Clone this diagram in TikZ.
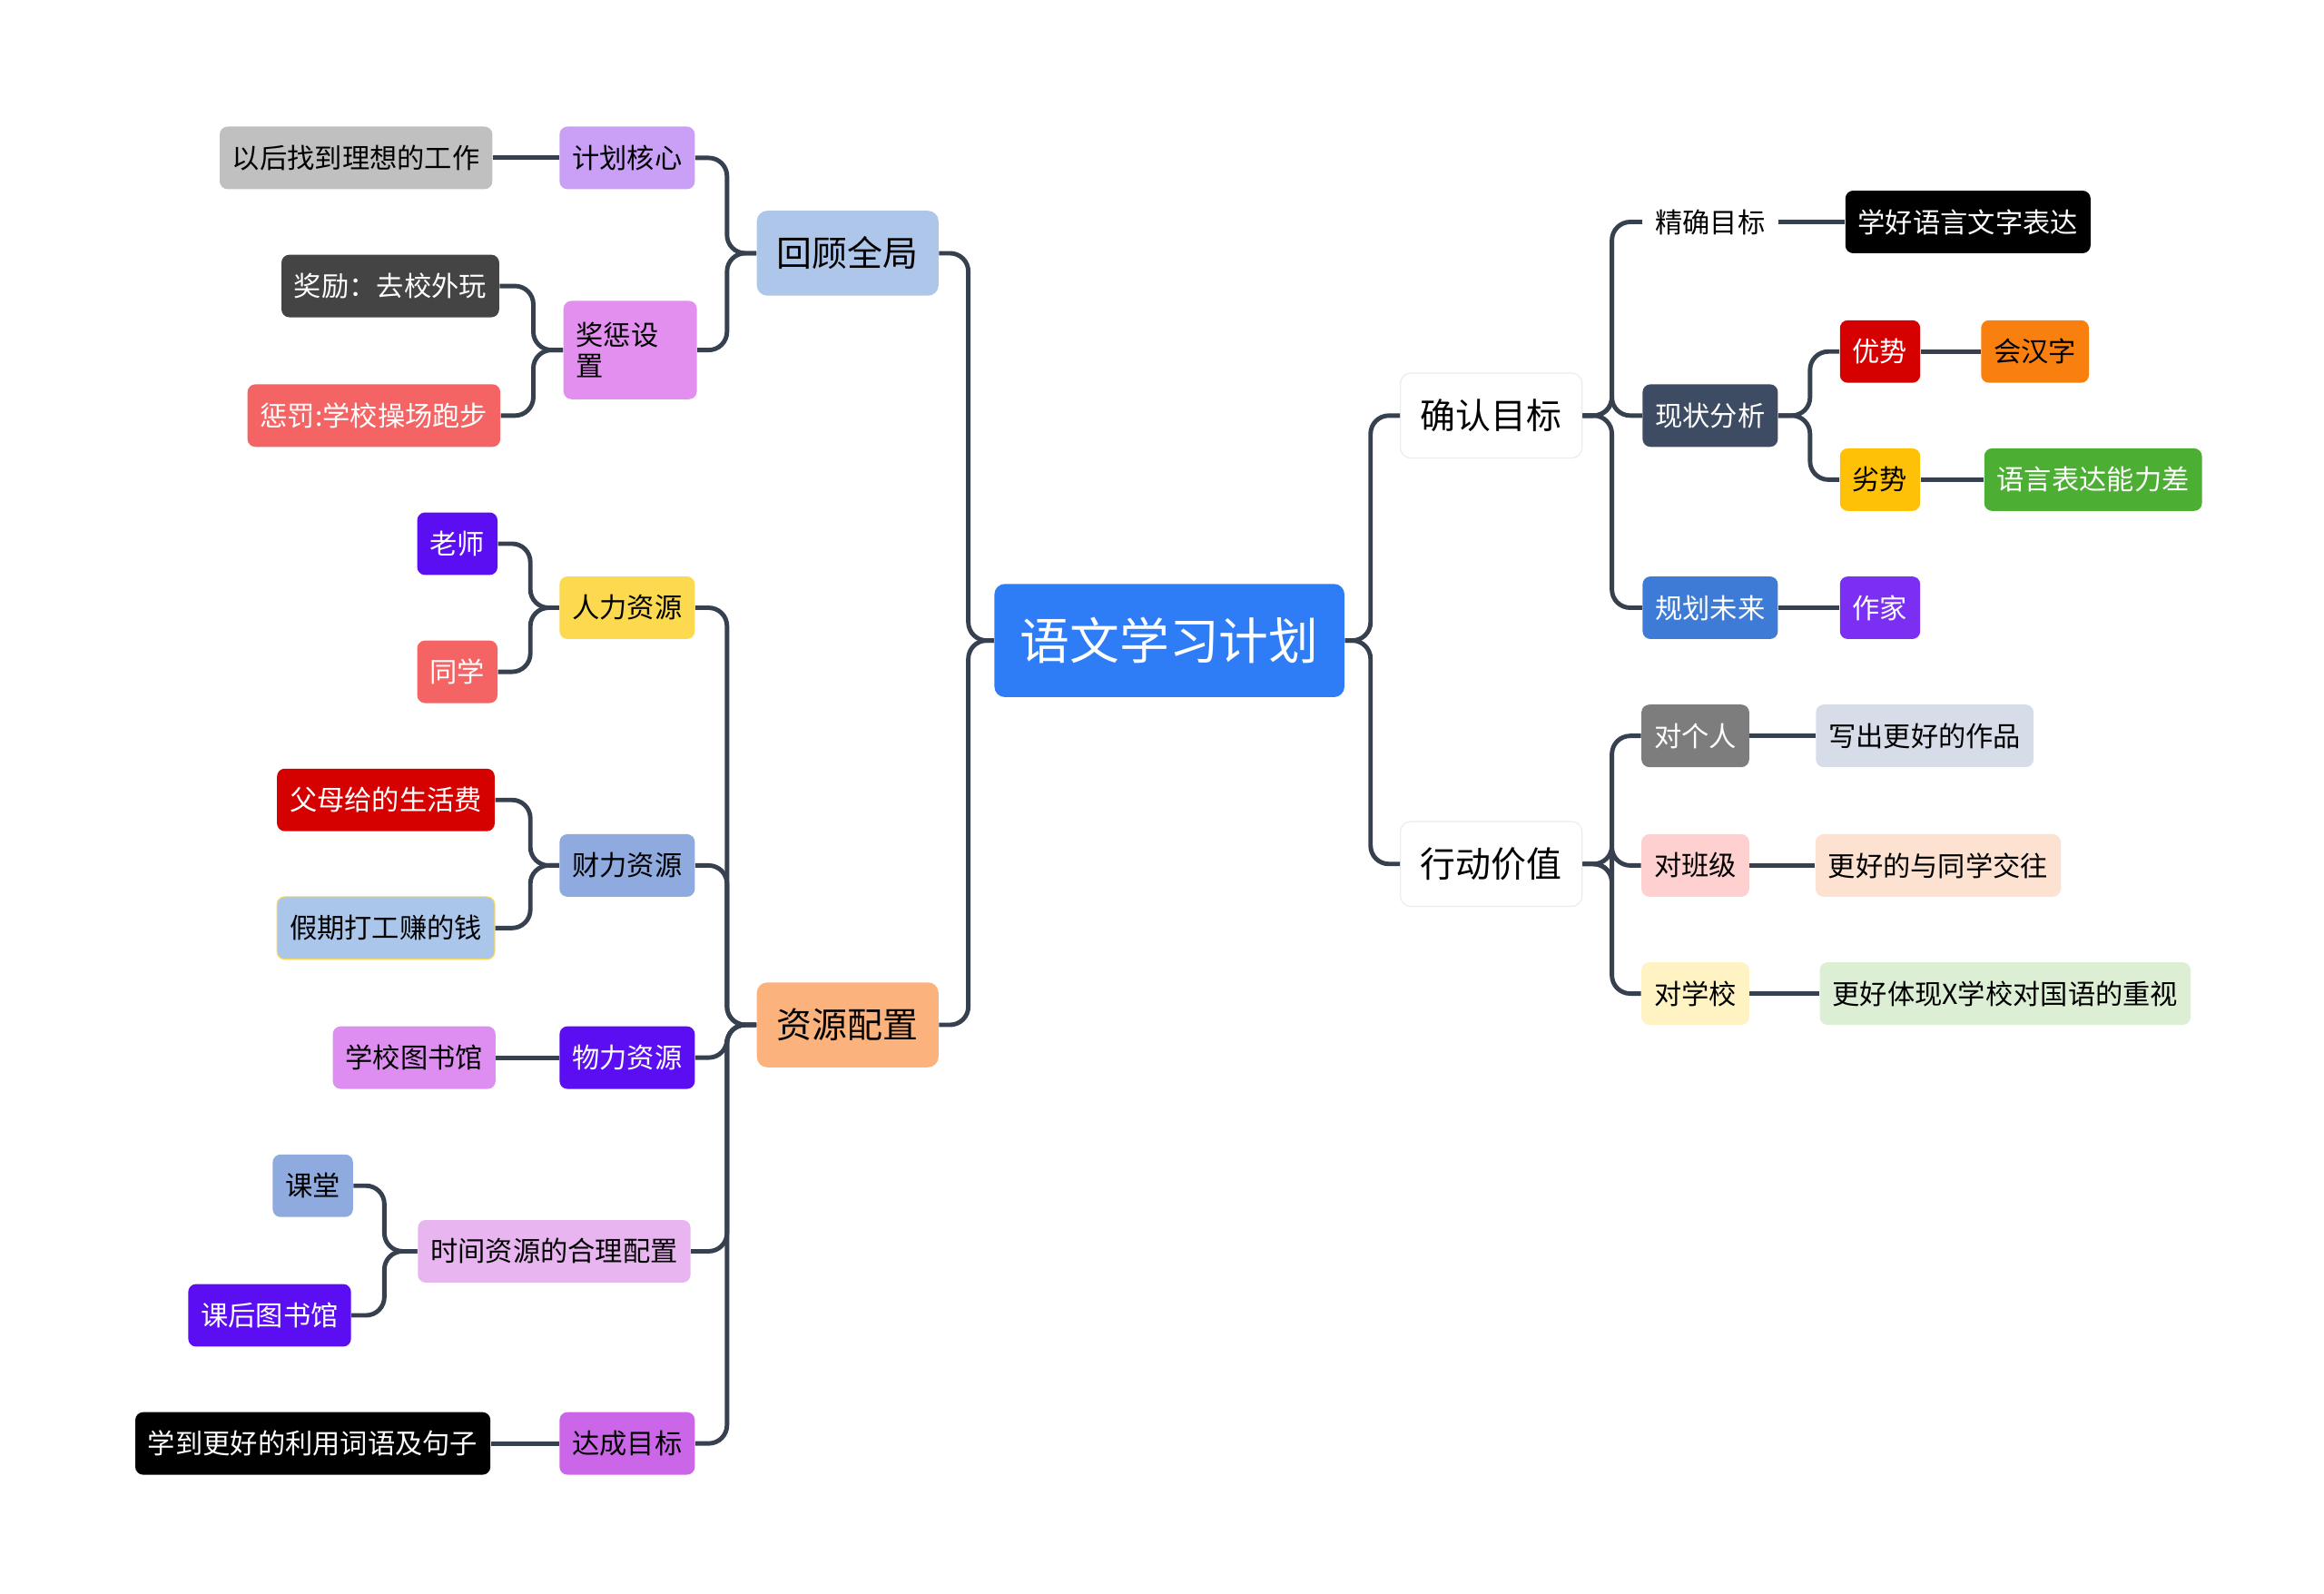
\documentclass[tikz,border=0pt]{standalone}
\usepackage{fontspec}
\setmainfont{Noto Sans CJK SC}
\usepackage{tikz}
\usetikzlibrary{arrows.meta}

\definecolor{linkc}{HTML}{37404F}

\begin{document}
\begin{tikzpicture}[x=0.02cm,y=-0.02cm]
	\tikzstyle{box}=[rounded corners=3pt,inner xsep=0.17cm,minimum height=0.84cm,font=\fontsize{10.5pt}{12pt}\selectfont,text=black]
	\tikzstyle{wbox}=[box,text=white]
	\tikzstyle{main}=[rounded corners=4pt,minimum width=2.44cm,minimum height=1.14cm,font=\fontsize{13.5pt}{15pt}\selectfont]
	\tikzstyle{link}=[draw=linkc,line width=1.7pt,rounded corners=7pt]
	\useasboundingbox (0,0) rectangle (1560,1070);

	%Root
	\node[rounded corners=4pt,fill={rgb,255:red,47;green,125;blue,246},text=white,minimum width=4.7cm,minimum height=1.52cm,font=\fontsize{19pt}{21pt}\selectfont] (root) at (785,430) {语文学习计划};

	%Main topics
	\node[main,fill={rgb,255:red,174;green,198;blue,234}] (hg) at (569,170) {回顾全局};
	\node[main,fill={rgb,255:red,251;green,178;blue,125}] (zy) at (569,688) {资源配置};
	\node[main,fill=white,draw={rgb,255:red,235;green,235;blue,235}] (qr) at (1001,279) {确认目标};
	\node[main,fill=white,draw={rgb,255:red,235;green,235;blue,235}] (xd) at (1001,580) {行动价值};

	%Left - review
	\node[box,fill={rgb,255:red,201;green,160;blue,245}] (jh) at (421,106) {计划核心};
	\node[box,fill={rgb,255:red,226;green,143;blue,240},align=left,minimum height=1.32cm,text width=1.45cm] (jc) at (423,235) {奖惩设\\置};
	\node[box,fill={rgb,255:red,192;green,192;blue,192}] (gz) at (239,106) {以后找到理想的工作};
	\node[wbox,fill={rgb,255:red,68;green,68;blue,68}] (jl) at (262,192) {奖励：去校外玩};
	\node[wbox,fill={rgb,255:red,244;green,100;blue,100}] (cf) at (251,279) {惩罚:学校操场跑步};

	%Left - resources
	\node[box,fill={rgb,255:red,253;green,217;blue,79}] (rl) at (421,408) {人力资源};
	\node[box,fill={rgb,255:red,142;green,170;blue,223}] (cl) at (421,581) {财力资源};
	\node[wbox,fill={rgb,255:red,91;green,14;blue,242}] (wl) at (421,710) {物力资源};
	\node[box,fill={rgb,255:red,232;green,181;blue,240}] (sj) at (372,840) {时间资源的合理配置};
	\node[box,fill={rgb,255:red,204;green,102;blue,232}] (dc) at (421,969) {达成目标};
	\node[wbox,fill={rgb,255:red,91;green,14;blue,242}] (ls) at (307,365) {老师};
	\node[wbox,fill={rgb,255:red,244;green,100;blue,100}] (tx) at (307,451) {同学};
	\node[wbox,fill={rgb,255:red,213;green,0;blue,0}] (fm) at (259,537) {父母给的生活费};
	\node[box,fill={rgb,255:red,170;green,198;blue,234},draw={rgb,255:red,250;green,215;blue,90}] (jq) at (259,623) {假期打工赚的钱};
	\node[box,fill={rgb,255:red,222;green,142;blue,240}] (ts) at (278,710) {学校图书馆};
	\node[box,fill={rgb,255:red,142;green,170;blue,223}] (kt) at (210,796) {课堂};
	\node[wbox,fill={rgb,255:red,91;green,14;blue,242}] (kh) at (181,883) {课后图书馆};
	\node[wbox,fill=black] (xd2) at (210,969) {学到更好的利用词语及句子};

	%Right - goals
	\node[box] (jq2) at (1148,149) {精确目标};
	\node[wbox,fill={rgb,255:red,61;green,75;blue,99}] (xz) at (1148,279) {现状分析};
	\node[wbox,fill={rgb,255:red,61;green,123;blue,214}] (gh) at (1148,408) {规划未来};
	\node[wbox,fill=black] (xh) at (1321,149) {学好语言文字表达};
	\node[wbox,fill={rgb,255:red,213;green,0;blue,0}] (ys) at (1262,236) {优势};
	\node[box,fill={rgb,255:red,255;green,193;blue,7}] (ls2) at (1262,322) {劣势};
	\node[box,fill={rgb,255:red,249;green,127;blue,15}] (hz) at (1366,236) {会汉字};
	\node[wbox,fill={rgb,255:red,76;green,175;blue,51}] (yy) at (1405,322) {语言表达能力差};
	\node[wbox,fill={rgb,255:red,123;green,47;blue,242}] (zj) at (1262,408) {作家};

	%Right - values
	\node[wbox,fill={rgb,255:red,125;green,125;blue,125}] (dgr) at (1138,494) {对个人};
	\node[box,fill={rgb,255:red,255;green,208;blue,208}] (dbj) at (1138,581) {对班级};
	\node[box,fill={rgb,255:red,255;green,243;blue,196}] (dxx) at (1138,667) {对学校};
	\node[box,fill={rgb,255:red,214;green,220;blue,232}] (zp) at (1292,494) {写出更好的作品};
	\node[box,fill={rgb,255:red,253;green,226;blue,210}] (jw) at (1301,581) {更好的与同学交往};
	\node[box,fill={rgb,255:red,220;green,239;blue,212}] (zs) at (1346,667) {更好体现X学校对国语的重视};

	%Links
	\foreach \to in {hg,zy}
	\draw[link] (root.west) -- (650,430) |- (\to.east);
	\foreach \to in {qr,xd}
	\draw[link] (root.east) -- (920,430) |- (\to.west);
	\foreach \to in {jh,jc}
	\draw[link] (hg.west) -- (488,170) |- (\to.east);
	\foreach \to in {jl,cf}
	\draw[link] (jc.west) -- (358,235) |- (\to.east);
	\foreach \to in {rl,cl,wl,sj,dc}
	\draw[link] (zy.west) -- (488,688) |- (\to.east);
	\foreach \to in {ls,tx}
	\draw[link] (rl.west) -- (356,408) |- (\to.east);
	\foreach \to in {fm,jq}
	\draw[link] (cl.west) -- (356,581) |- (\to.east);
	\foreach \to in {kt,kh}
	\draw[link] (sj.west) -- (258,840) |- (\to.east);
	\foreach \from/\to in {jh/gz,wl/ts,dc/xd2}
	\draw[link] (\from.west) -- (\to.east);
	\foreach \to in {jq2,xz,gh}
	\draw[link] (qr.east) -- (1082,279) |- (\to.west);
	\foreach \to in {ys,ls2}
	\draw[link] (xz.east) -- (1215,279) |- (\to.west);
	\foreach \to in {dgr,dbj,dxx}
	\draw[link] (xd.east) -- (1082,580) |- (\to.west);
	\foreach \from/\to in {jq2/xh,ys/hz,ls2/yy,gh/zj,dgr/zp,dbj/jw,dxx/zs}
	\draw[link] (\from.east) -- (\to.west);
\end{tikzpicture}
\end{document}
